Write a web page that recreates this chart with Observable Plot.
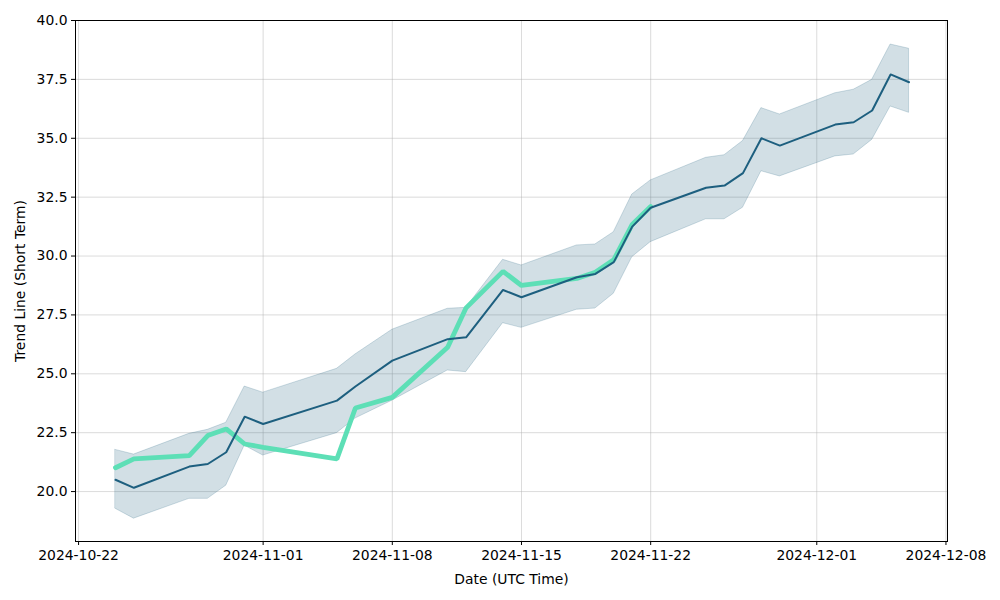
<!DOCTYPE html>
<html>
<head>
<meta charset="utf-8">
<script src="https://cdn.jsdelivr.net/npm/d3@7"></script>
<script src="https://cdn.jsdelivr.net/npm/@observablehq/plot@0.6"></script>
<style>
  html, body { margin: 0; padding: 0; background: #ffffff; }
  #chart { width: 1000px; height: 600px; }
</style>
</head>
<body>
<div id="chart"></div>
<script>
// Trend (short term) line with confidence band
const trendDates = ["2024-10-24","2024-10-25","2024-10-28","2024-10-29","2024-10-30","2024-10-31","2024-11-01",
  "2024-11-05","2024-11-06","2024-11-08","2024-11-11","2024-11-12","2024-11-14","2024-11-15","2024-11-18",
  "2024-11-19","2024-11-20","2024-11-21","2024-11-22","2024-11-25","2024-11-26","2024-11-27","2024-11-28",
  "2024-11-29","2024-12-02","2024-12-03","2024-12-04","2024-12-05","2024-12-06"];
const trendValues = [20.50,20.16,21.06,21.17,21.67,23.18,22.87,
  23.86,24.46,25.56,26.47,26.55,28.56,28.25,29.10,
  29.24,29.74,31.25,32.05,32.90,32.99,33.52,35.00,
  34.69,35.58,35.68,36.18,37.71,37.38];
const upperValues = [21.77,21.57,22.45,22.62,22.92,24.46,24.20,
  25.21,25.82,26.87,27.76,27.80,29.84,29.60,30.45,
  30.49,31.01,32.61,33.21,34.17,34.28,34.88,36.28,
  36.01,36.91,37.06,37.48,38.98,38.80];
const lowerValues = [19.27,18.85,19.69,19.69,20.25,21.95,21.53,
  22.48,23.10,23.86,25.14,25.07,27.15,26.95,27.72,
  27.77,28.40,29.95,30.59,31.56,31.56,32.05,33.60,
  33.38,34.23,34.31,34.93,36.35,36.08];

// Actual price line (green)
const priceDates = ["2024-10-24","2024-10-25","2024-10-28","2024-10-29","2024-10-30","2024-10-31","2024-11-01",
  "2024-11-05","2024-11-06","2024-11-08","2024-11-11","2024-11-12","2024-11-14","2024-11-15","2024-11-18",
  "2024-11-19","2024-11-20","2024-11-21","2024-11-22"];
const priceValues = [21.01,21.39,21.53,22.38,22.66,22.02,21.88,
  21.39,23.55,24.00,26.13,27.80,29.35,28.75,29.05,
  29.31,29.84,31.34,32.10];

const xTicks = ["2024-10-22","2024-11-01","2024-11-08","2024-11-15","2024-11-22","2024-12-01","2024-12-08"];
const yTicks = [20.0,22.5,25.0,27.5,30.0,32.5,35.0,37.5,40.0];

const trend = trendDates.map((d, i) => ({date: new Date(d + "T00:00:00Z"), value: trendValues[i], upper: upperValues[i], lower: lowerValues[i]}));
const price = priceDates.map((d, i) => ({date: new Date(d + "T00:00:00Z"), value: priceValues[i]}));

const fmtDate = d3.utcFormat("%Y-%m-%d");

const chart = Plot.plot({
  width: 1000,
  height: 600,
  marginLeft: 75,
  marginRight: 53,
  marginTop: 20,
  marginBottom: 59,
  style: {fontFamily: "DejaVu Sans, sans-serif", fontSize: "13.9px", color: "#000", background: "#fff"},
  x: {
    type: "utc",
    domain: [new Date("2024-10-21T20:00:00Z"), new Date("2024-12-08T02:00:00Z")],
    ticks: xTicks.map(d => new Date(d + "T00:00:00Z")),
    tickFormat: fmtDate,
    label: "Date (UTC Time)",
    labelAnchor: "center",
    labelArrow: "none",
    labelOffset: 42,
    tickSize: 4,
    tickPadding: 5
  },
  y: {
    domain: [17.88, 40.0],
    ticks: yTicks,
    tickFormat: d3.format(".1f"),
    label: "Trend Line (Short Term)",
    labelAnchor: "center",
    labelArrow: "none",
    labelOffset: 60,
    tickSize: 4,
    tickPadding: 4
  },
  marks: [
    Plot.gridX(xTicks.map(d => new Date(d + "T00:00:00Z")), {stroke: "#b0b0b0", strokeOpacity: 0.45}),
    Plot.gridY(yTicks, {stroke: "#b0b0b0", strokeOpacity: 0.45}),
    Plot.areaY(trend, {x: "date", y1: "lower", y2: "upper", fill: "#1d5f7f", fillOpacity: 0.2, stroke: "#1d5f7f", strokeOpacity: 0.2, strokeWidth: 1}),
    Plot.lineY(price, {x: "date", y: "value", stroke: "#5ddfb6", strokeWidth: 4.8, strokeLinejoin: "miter"}),
    Plot.lineY(trend, {x: "date", y: "value", stroke: "#1d5f7f", strokeWidth: 2}),
    Plot.frame({stroke: "#000", strokeWidth: 1})
  ]
});

document.getElementById("chart").appendChild(chart);
</script>
</body>
</html>
